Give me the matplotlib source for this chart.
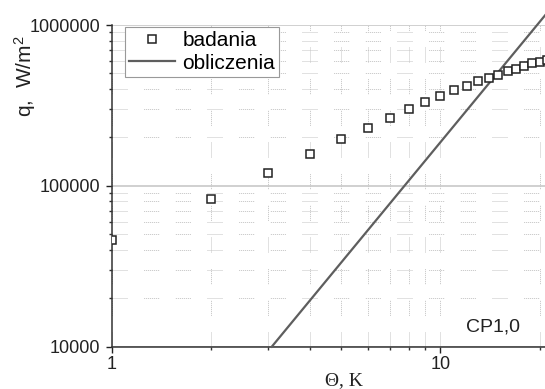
import matplotlib.pyplot as plt
import matplotlib.ticker as ticker

theta_bad = [1, 2, 3, 4, 5, 6, 7, 8, 9, 10, 11, 12, 13, 14, 15, 16, 17, 18, 19, 20, 21]
q_bad = [45800, 82800, 120500, 158000, 195000, 230000, 265000, 301000, 334000, 363000,
         392000, 420000, 449000, 470000, 491000, 518000, 532000, 558000, 578000, 592000, 605000]
theta_obl = [3.07, 20.8]
q_obl = [10000, 1150000]

x_ticks = [1, 10]
y_ticks = [10000, 100000, 1000000]

plt.rcParams['font.family'] = ['Liberation Sans', 'DejaVu Sans']
plt.rcParams['mathtext.default'] = 'regular'
plt.rcParams['lines.scale_dashes'] = False

fig = plt.figure(figsize=(5.45, 3.89), dpi=100)
ax = fig.add_axes([0.2046, 0.1087, 0.7954, 0.827])

ax.set_xscale('log')
ax.set_yscale('log')
ax.set_xlim(1, 20.78)
ax.set_ylim(10000, 1000000)

# grid: dotted bits with gaps, solid light lines at y decades
dots = (0, (0.72, 0.72) * 7 + (0.72, 12))
ax.grid(which='minor', color='#c4c4c4', lw=0.72, ls=dots)
ax.xaxis.grid(True, which='major', color='#c4c4c4', lw=0.72, ls=dots)
ax.yaxis.grid(True, which='major', color='#c8c8c8', lw=1.2, ls='-')
ax.set_axisbelow(True)

ax.plot(theta_obl, q_obl, color='#5e5e5e', lw=1.6, clip_on=False, label='obliczenia', zorder=3)
ax.plot(theta_bad, q_bad, ls='none', marker='s', ms=6, mfc='white', mec='#222222',
        mew=1.1, label='badania', zorder=4)

for s in ['top', 'right']:
    ax.spines[s].set_visible(False)
for s in ['left', 'bottom']:
    ax.spines[s].set_color('#333333')
    ax.spines[s].set_linewidth(1.1)

ax.xaxis.set_major_locator(ticker.FixedLocator(x_ticks))
ax.yaxis.set_major_locator(ticker.FixedLocator(y_ticks))
ax.xaxis.set_minor_locator(ticker.LogLocator(base=10, subs=range(2, 10)))
ax.yaxis.set_minor_locator(ticker.LogLocator(base=10, subs=range(2, 10)))
ax.xaxis.set_major_formatter(ticker.FuncFormatter(lambda v, p: f'{v:.0f}'))
ax.yaxis.set_major_formatter(ticker.FuncFormatter(lambda v, p: f'{v:.0f}'))
ax.xaxis.set_minor_formatter(ticker.NullFormatter())
ax.yaxis.set_minor_formatter(ticker.NullFormatter())
ax.tick_params(which='major', direction='out', length=4.5, width=1.0, color='#333333')
ax.tick_params(which='minor', direction='out', length=2.5, width=1.0, color='#333333')
ax.tick_params(axis='y', labelsize=13, pad=3.5, colors='#222222')
ax.tick_params(axis='x', labelsize=13, pad=2, colors='#222222')

h, l = ax.get_legend_handles_labels()
leg = ax.legend(h[::-1], l[::-1], loc='upper left', bbox_to_anchor=(0.031, 0.993),
                borderaxespad=0, fontsize=15, fancybox=False, edgecolor='#999999',
                framealpha=1, handlelength=2.2, handletextpad=0.35, labelspacing=0.15,
                borderpad=0.2)
leg.get_frame().set_linewidth(0.8)

fig.text(25 / 545, 1 - 76 / 389, 'q,  W/m$^2$', rotation=90, ha='center', va='center',
         fontsize=15, color='#222222')
fig.text(344 / 545, 1 - 372 / 389, 'Θ, K', ha='center', va='top', fontsize=14,
         family=['Liberation Serif', 'DejaVu Serif'], color='#222222')
fig.text(466 / 545, 1 - 332 / 389, 'CP1,0', ha='left', va='baseline', fontsize=14,
         color='#222222')

fig.savefig('out.png', dpi=100)
